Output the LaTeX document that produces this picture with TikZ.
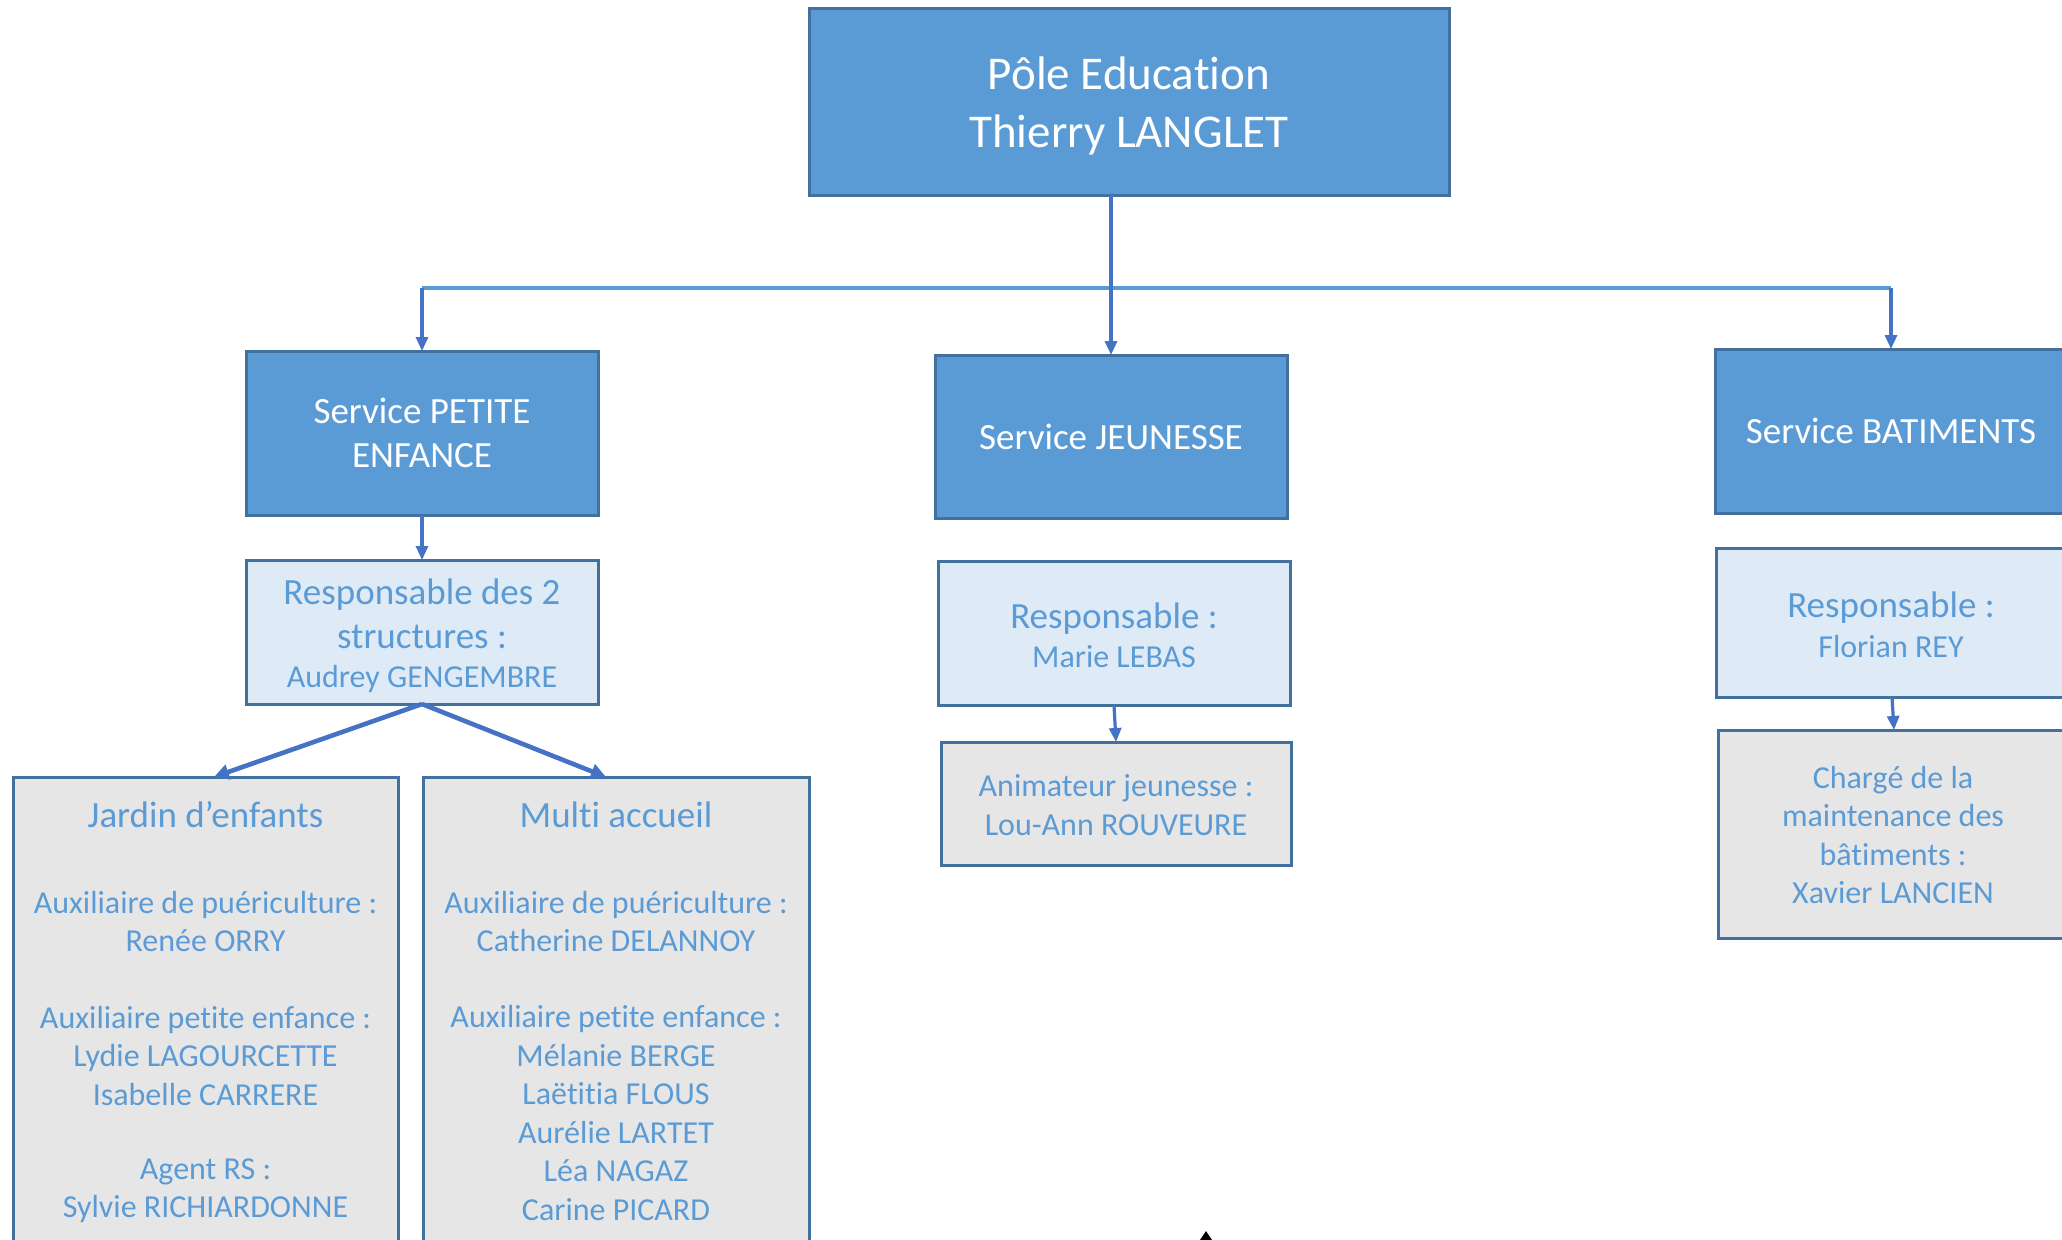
\documentclass[tikz,border=0pt]{standalone}
\usepackage{fontspec}
\setmainfont{Carlito}[Ligatures=NoCommon]
\usetikzlibrary{arrows.meta,calc}
\definecolor{darkc}{HTML}{5B9BD5}
\definecolor{bordc}{HTML}{41719C}
\definecolor{lightc}{HTML}{DEEBF7}
\definecolor{grayc}{HTML}{E7E6E6}
\definecolor{txtc}{HTML}{5B9BD5}
\definecolor{arrc}{HTML}{4472C4}
\newcommand\fbig{\fontsize{23.5}{28.75}\selectfont}
\newcommand\fmid{\fontsize{18.5}{22}\selectfont}
\newcommand\fsml{\fontsize{16}{19.25}\selectfont}
\tikzset{
  boxbase/.style={draw=bordc, line width=1.5pt, inner sep=0pt, outer sep=0pt, align=center},
  boxdark/.style={boxbase, fill=darkc, text=white},
  boxlight/.style={boxbase, fill=lightc},
  boxgray/.style={boxbase, fill=grayc},
  txtwhite/.style={text=white, align=center, inner sep=0pt},
  txtmid/.style={text=txtc, font=\fmid, align=center, inner sep=0pt},
  txtsml/.style={text=txtc, font=\fsml, align=center, inner sep=0pt},
  arr/.style={draw=arrc, line width=1.6pt, -{Triangle[width=6pt,length=7pt]}},
  arrd/.style={draw=arrc, line width=2.3pt, -{Triangle[width=7.5pt,length=7.5pt]}},
  busline/.style={draw=darkc, line width=2pt}
}
\begin{document}
\begin{tikzpicture}[x=0.5pt,y=-0.5pt]
\useasboundingbox (0,0) rectangle (2062,1239);
\fill[white] (0,0) rectangle (2062,1239);
\clip (0,0) rectangle (2062,1239);

% top
\node[boxdark, minimum width=320pt, minimum height=93.5pt] (top) at (1129,101.5) {};
\node[txtwhite, font=\fbig] (toptxt) at (1129,106) {Pôle Education\\Thierry LANGLET};

% services
\node[boxdark, minimum width=176pt, minimum height=82pt, font=\fmid] (pe) at (422,433) {Service PETITE\\ENFANCE};
\node[boxdark, minimum width=176pt, minimum height=81.5pt, font=\fmid] (jeu) at (1111,436.5) {Service JEUNESSE};
\node[boxdark, minimum width=176pt, minimum height=82pt, font=\fmid] (bat) at (1891,431) {Service BATIMENTS};

% responsables
\node[boxlight, minimum width=176pt, minimum height=72pt] (rpe) at (422,632) {};
\node[txtmid] (rpe1) at (422,614) {Responsable des 2\\structures :};
\node[txtsml] (rpe2) at (422,679) {Audrey GENGEMBRE};

\node[boxlight, minimum width=176pt, minimum height=72pt] (rjeu) at (1114,633) {};
\node[txtmid] (rjeu1) at (1114,619) {Responsable :};
\node[txtsml] (rjeu2) at (1114,657) {Marie LEBAS};

\node[boxlight, minimum width=176pt, minimum height=74.5pt] (rbat) at (1892,622.5) {};
\node[txtmid] (rbat1) at (1891,608) {Responsable :};
\node[txtsml] (rbat2) at (1891,646) {Florian REY};

% gray boxes
\node[boxgray, minimum width=192.5pt, minimum height=261.5pt] (jardin) at (205.5,1038.5) {};
\node[txtmid] (jt) at (205.5,815) {Jardin d’enfants};
\node[txtsml] (j1) at (205.5,921.5) {Auxiliaire de puériculture :\\Renée ORRY};
\node[txtsml] (j2) at (205.5,1055.5) {Auxiliaire petite enfance :\\Lydie LAGOURCETTE\\Isabelle CARRERE};
\node[txtsml] (j3) at (205.5,1190.5) {Agent RS :\\Sylvie RICHIARDONNE};

\node[boxgray, minimum width=193pt, minimum height=261.5pt] (multi) at (616,1038.5) {};
\node[txtmid] (mt) at (616,815) {Multi accueil};
\node[txtsml] (m1) at (616,921.5) {Auxiliaire de puériculture :\\Catherine DELANNOY};
\node[txtsml] (m2) at (616,1113) {Auxiliaire petite enfance :\\Mélanie BERGE\\Laëtitia FLOUS\\Aurélie LARTET\\Léa NAGAZ\\Carine PICARD};

\node[boxgray, minimum width=175pt, minimum height=61.5pt] (anim) at (1116,803.5) {};
\node[txtsml] (anim1) at (1116,805) {Animateur jeunesse :\\Lou-Ann ROUVEURE};

\node[boxgray, minimum width=176pt, minimum height=104pt] (charge) at (1894,834) {};
\node[txtsml] (charge1) at (1893,835) {Chargé de la\\maintenance des\\bâtiments :\\Xavier LANCIEN};

% connectors
\coordinate (bus) at (0,288);
\draw[busline] (pe.north |- bus) -- (bat.north |- bus);
\draw[arr] (top.south -| jeu.north) -- (jeu.north);
\draw[arr] (pe.north |- bus) -- (pe.north);
\draw[arr] (bat.north |- bus) -- (bat.north);
\draw[arr] (pe.south) -- (rpe.north);
\draw[arrd] (rpe.south) -- ([xshift=4.25pt]jardin.north);
\draw[arrd] (rpe.south) -- ([xshift=-5pt]multi.north);
\draw[arr] (rjeu.south) -- (anim.north);
\draw[arr] (rbat.south) -- (charge.north);

% small black mark at bottom edge
\coordinate (mk) at (1206,1231);
\fill[black] (mk) -- ++(6,9) -- ++(-12,0) -- cycle;
\end{tikzpicture}
\end{document}
